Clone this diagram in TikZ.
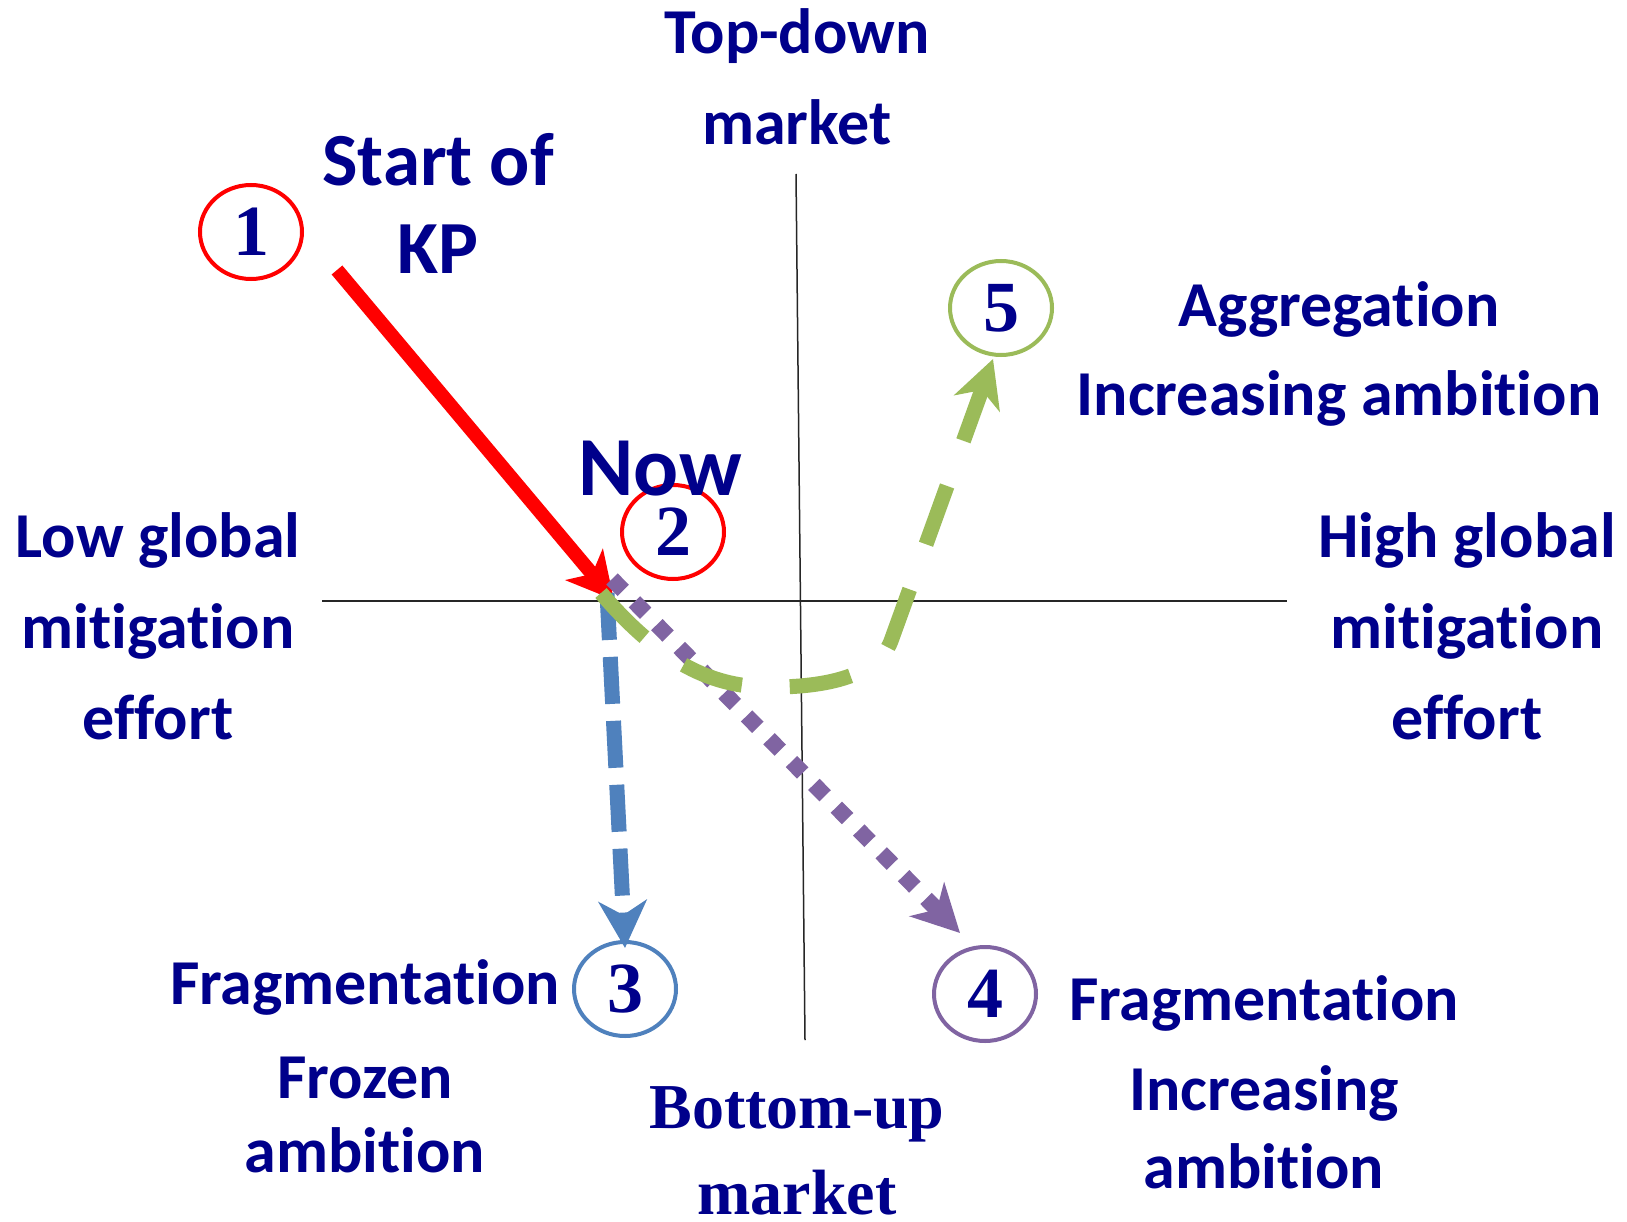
\documentclass[tikz,border=0pt]{standalone}
\usepackage{fontspec}
\setmainfont{Carlito}[Ligatures=NoCommon,RawFeature={-clig}]
\newfontfamily\serifb{Liberation Serif}
\usetikzlibrary{arrows.meta,shapes.geometric}
\definecolor{navy}{RGB}{0,0,139}
\definecolor{kpred}{RGB}{255,0,0}
\definecolor{offblue}{RGB}{79,129,189}
\definecolor{offgreen}{RGB}{155,187,89}
\definecolor{offpurple}{RGB}{128,100,162}
\begin{document}
\begin{tikzpicture}[x=1pt,y=-1pt,
  lbl/.style={text=navy,font=\bfseries\fontsize{64}{64}\selectfont,inner sep=0,anchor=base},
  slbl/.style={text=navy,font=\serifb\bfseries\fontsize{64}{64}\selectfont,inner sep=0,anchor=base},
  numc/.style={shape=ellipse,draw=#1,line width=4pt,minimum width=102pt,minimum height=94pt,inner sep=0,
     text=navy,font=\serifb\bfseries\fontsize{72}{72}\selectfont},
  axis/.style={line width=1.5pt,black!85},
  tipa/.style={-{Stealth[length=47pt,width=48pt,inset=14pt]}}
]
\useasboundingbox[fill=white] (0,0) rectangle (1627,1222);
% axes
\coordinate (hl) at (322,601);
\coordinate (hr) at (1287,601);
\coordinate (vt) at (796,174);
\coordinate (vb) at (805,1040);
\draw[axis] (hl) -- (hr);
\draw[axis] (vt) -- (vb);
% circles
\node[numc=kpred] (c1) at (251,232) {1};
\node[numc=kpred] (c2) at (673,532) {2};
\node[numc=offblue] (c3) at (625,989) {3};
\node[numc=offpurple] (c4) at (985,994) {4};
\node[numc=offgreen] (c5) at (1001,308) {5};
% labels
\node[lbl] (td1) at (797,54) {Top-down};
\node[lbl] (td2) at (797,145) {market};
\node[lbl,font=\bfseries\fontsize{75}{75}\selectfont] (kp1) at (438,186) {Start of};
\node[lbl,font=\bfseries\fontsize{75}{75}\selectfont] (kp2) at (438,274) {KP};
\node[lbl,font=\bfseries\fontsize{84}{84}\selectfont] (now) at (660,495) {Now};
\node[lbl] (ag1) at (1339,327) {Aggregation};
\node[lbl] (ag2) at (1339,415) {Increasing ambition};
\node[lbl] (lo1) at (158,557) {Low global};
\node[lbl] (lo2) at (158,648) {mitigation};
\node[lbl] (lo3) at (158,739) {effort};
\node[lbl] (hi1) at (1467,557) {High global};
\node[lbl] (hi2) at (1467,648) {mitigation};
\node[lbl] (hi3) at (1467,739) {effort};
\node[lbl] (fl1) at (365,1004) {Fragmentation};
\node[lbl] (fl2) at (365,1098) {Frozen};
\node[lbl] (fl3) at (365,1172) {ambition};
\node[lbl] (fr1) at (1264,1020) {Fragmentation};
\node[lbl] (fr2) at (1264,1110) {Increasing};
\node[lbl] (fr3) at (1264,1188) {ambition};
\node[slbl] (bu1) at (797,1128) {Bottom-up};
\node[slbl] (bu2) at (797,1214) {market};
% connectors
\coordinate (kpstart) at (337,270);
\coordinate (origin) at (614,600);
\coordinate (bstart) at (607,593);
\coordinate (pstart) at (612,579);
\coordinate (ptip) at (960,933);
\coordinate (gstart) at (601,593);
\draw[kpred,line width=14pt,-{Stealth[length=46pt,width=48pt,inset=12pt]}] (kpstart) -- (origin);
\draw[offblue,line width=15pt,dash pattern=on 47pt off 17pt,tipa] (bstart) -- ([yshift=-8pt]c3.north);
\draw[offpurple,line width=16pt,dash pattern=on 16pt off 16pt,tipa] (pstart) -- (ptip);
\draw[offgreen,line width=15pt,dash pattern=on 62pt off 48pt,tipa] (gstart) .. controls (650,650) and (700,686) .. (765,687) .. controls (820,688) and (877,678) .. (891,641) -- ([xshift=-8pt,yshift=-2pt]c5.south);
\end{tikzpicture}
\end{document}
